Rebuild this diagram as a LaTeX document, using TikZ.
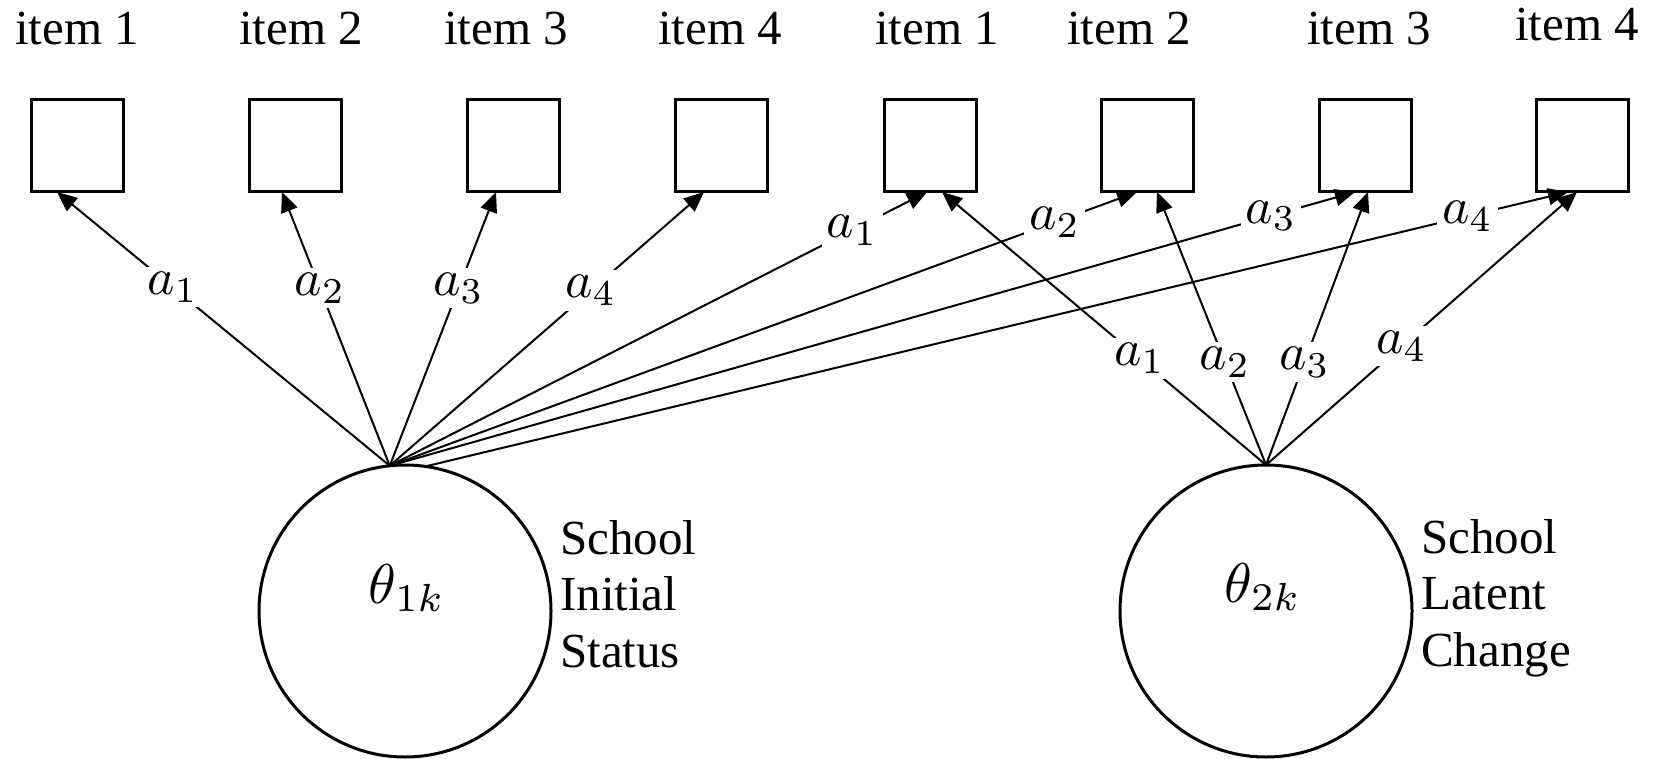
\documentclass[tikz,border=0pt]{standalone}
\usepackage{fontspec}
\usepackage{graphicx}
\setmainfont{Liberation Serif}
\usetikzlibrary{arrows.meta}
\newcommand{\bigmath}[2]{\scalebox{#1}{$#2$}}
\begin{document}
\begin{tikzpicture}[x=1pt,y=-1pt,
  itembox/.style={draw, line width=3pt, minimum width=92pt, minimum height=92pt, inner sep=0pt, outer sep=0pt},
  latent/.style={draw, circle, line width=3pt, minimum size=292pt, inner sep=0pt, outer sep=0pt},
  itemlab/.style={anchor=base, inner sep=0pt, font=\fontsize{49}{56.5}\selectfont},
  side/.style={anchor=base west, inner sep=0pt, font=\fontsize{49}{56.5}\selectfont},
  thetalab/.style={anchor=base, inner sep=0pt},
  conn/.style={line width=2pt, -{Triangle[length=20pt,width=17pt]}},
  lab/.style={fill=white, inner sep=5pt},
]
\useasboundingbox (0,0) rectangle (1661,759);

% item labels
\node[itemlab] (l1) at (77,45)   {item 1};
\node[itemlab] (l2) at (301,45)  {item 2};
\node[itemlab] (l3) at (506,45)  {item 3};
\node[itemlab] (l4) at (720,45)  {item 4};
\node[itemlab] (l5) at (937,45)  {item 1};
\node[itemlab] (l6) at (1129,45) {item 2};
\node[itemlab] (l7) at (1369,45) {item 3};
\node[itemlab] (l8) at (1577,41) {item 4};

% item boxes
\node[itembox] (b1) at (77,146)   {};
\node[itembox] (b2) at (295,146)  {};
\node[itembox] (b3) at (513,146)  {};
\node[itembox] (b4) at (721,146)  {};
\node[itembox] (b5) at (930,146)  {};
\node[itembox] (b6) at (1147,146) {};
\node[itembox] (b7) at (1365,146) {};
\node[itembox] (b8) at (1582,146) {};

% latent variables
\node[latent] (c1) at (405,611)  {};
\node[latent] (c2) at (1266,611) {};
\node[thetalab] (th1) at (407,603)  {\bigmath{5.6}{\theta_{1k}}};
\node[thetalab] (th2) at (1263,602) {\bigmath{5.6}{\theta_{2k}}};
\node[side] (s1) at (560,554)  {\begin{tabular}[t]{@{}l@{}}School\\Initial\\Status\end{tabular}};
\node[side] (s2) at (1421,553) {\begin{tabular}[t]{@{}l@{}}School\\Latent\\Change\end{tabular}};

% loadings from theta 1
\draw[conn] (c1.96) -- node[lab,pos=0.652]{\bigmath{5.2}{a_1}} ([xshift=-20pt]b1.south);
\draw[conn] (c1.96) -- node[lab,pos=0.648]{\bigmath{5.2}{a_2}} ([xshift=-13pt]b2.south);
\draw[conn] (c1.96) -- node[lab,pos=0.648]{\bigmath{5.2}{a_3}} ([xshift=-17pt]b3.south);
\draw[conn] (c1.96) -- node[lab,pos=0.64]{\bigmath{5.2}{a_4}}  ([xshift=-17pt]b4.south);
\draw[conn] (c1.96) -- node[lab,pos=0.861]{\bigmath{5.2}{a_1}} ([xshift=-3pt]b5.south);
\draw[conn] (c1.96) -- node[lab,pos=0.89]{\bigmath{5.2}{a_2}}  ([xshift=-10pt]b6.south);
\draw[conn] (c1.96) -- node[lab,pos=0.913]{\bigmath{5.2}{a_3}} ([xshift=-10pt]b7.south);
\draw[conn] (c1.82) -- node[lab,pos=0.912]{\bigmath{5.2}{a_4}} ([xshift=-14pt]b8.south);

% loadings from theta 2
\draw[conn] (c2.north) -- node[lab,pos=0.39]{\bigmath{5.2}{a_1}}  ([xshift=12pt]b5.south);
\draw[conn] (c2.north) -- node[lab,pos=0.377]{\bigmath{5.2}{a_2}} ([xshift=10pt]b6.south);
\draw[conn] (c2.north) -- node[lab,pos=0.377]{\bigmath{5.2}{a_3}} ([xshift=3pt]b7.south);
\draw[conn] (c2.north) -- node[lab,pos=0.436]{\bigmath{5.2}{a_4}} ([xshift=-5pt]b8.south);
\end{tikzpicture}
\end{document}
